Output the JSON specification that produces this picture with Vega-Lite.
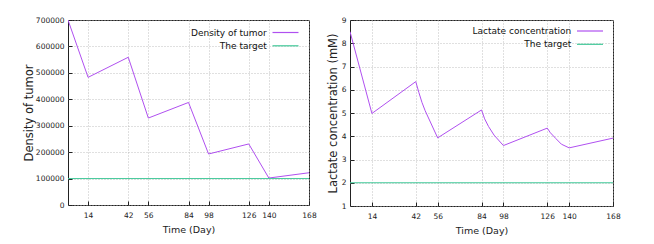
{
  "$schema": "https://vega.github.io/schema/vega-lite/v6.json",
  "background": "white",
  "padding": {"left": 22, "top": 15, "right": 0, "bottom": 0},
  "spacing": 9,
  "config": {
    "font": "DejaVu Sans",
    "view": {"stroke": "#222", "strokeWidth": 1},
    "axis": {
      "grid": true, "gridColor": "#b0b0b0", "gridDash": [1, 2], "gridWidth": 0.8,
      "domain": false, "ticks": true, "tickSize": -4, "tickColor": "#222",
      "labelFont": "DejaVu Sans", "labelFontSize": 7.5, "labelColor": "#222", "labelFlush": false,
      "titleFont": "DejaVu Sans", "titleFontWeight": "normal", "titleColor": "#222"
    },
    "legend": {
      "labelFont": "DejaVu Sans", "labelFontSize": 9, "labelColor": "#111",
      "symbolType": "M-1,0H3", "symbolSize": 169, "symbolStrokeWidth": 1.2,
      "labelAlign": "right", "labelOffset": -19.7, "rowPadding": 0.3,
      "orient": "none", "padding": 0, "title": null
    }
  },
  "datasets": {
    "d": [
      {"panel": "tumor", "series": "Density of tumor", "day": 0, "value": 700000},
      {"panel": "tumor", "series": "Density of tumor", "day": 14, "value": 483000},
      {"panel": "tumor", "series": "Density of tumor", "day": 42, "value": 559000},
      {"panel": "tumor", "series": "Density of tumor", "day": 56, "value": 329000},
      {"panel": "tumor", "series": "Density of tumor", "day": 84, "value": 388000},
      {"panel": "tumor", "series": "Density of tumor", "day": 98, "value": 193000},
      {"panel": "tumor", "series": "Density of tumor", "day": 126, "value": 231000},
      {"panel": "tumor", "series": "Density of tumor", "day": 140, "value": 102000},
      {"panel": "tumor", "series": "Density of tumor", "day": 168, "value": 122000},
      {"panel": "tumor", "series": "The target", "day": 0, "value": 100000},
      {"panel": "tumor", "series": "The target", "day": 168, "value": 100000},
      {"panel": "lactate", "series": "Lactate concentration", "day": 0, "value": 8.5},
      {"panel": "lactate", "series": "Lactate concentration", "day": 14, "value": 4.98},
      {"panel": "lactate", "series": "Lactate concentration", "day": 42, "value": 6.35},
      {"panel": "lactate", "series": "Lactate concentration", "day": 44, "value": 5.88},
      {"panel": "lactate", "series": "Lactate concentration", "day": 46, "value": 5.45},
      {"panel": "lactate", "series": "Lactate concentration", "day": 48, "value": 5.1},
      {"panel": "lactate", "series": "Lactate concentration", "day": 56, "value": 3.93},
      {"panel": "lactate", "series": "Lactate concentration", "day": 84, "value": 5.13},
      {"panel": "lactate", "series": "Lactate concentration", "day": 86, "value": 4.75},
      {"panel": "lactate", "series": "Lactate concentration", "day": 88.5, "value": 4.42},
      {"panel": "lactate", "series": "Lactate concentration", "day": 92, "value": 4.05},
      {"panel": "lactate", "series": "Lactate concentration", "day": 98, "value": 3.6},
      {"panel": "lactate", "series": "Lactate concentration", "day": 126, "value": 4.35},
      {"panel": "lactate", "series": "Lactate concentration", "day": 128, "value": 4.15},
      {"panel": "lactate", "series": "Lactate concentration", "day": 131.5, "value": 3.9},
      {"panel": "lactate", "series": "Lactate concentration", "day": 135, "value": 3.66},
      {"panel": "lactate", "series": "Lactate concentration", "day": 140, "value": 3.5},
      {"panel": "lactate", "series": "Lactate concentration", "day": 168, "value": 3.92},
      {"panel": "lactate", "series": "The target", "day": 0, "value": 2},
      {"panel": "lactate", "series": "The target", "day": 168, "value": 2}
    ]
  },
  "resolve": {"scale": {"color": "independent"}, "legend": {"color": "independent"}},
  "hconcat": [
    {
      "width": 241, "height": 185,
      "data": {"name": "d"},
      "transform": [{"filter": "datum.panel === 'tumor'"}],
      "mark": {"type": "line", "strokeWidth": 1, "clip": true},
      "encoding": {
        "x": {"field": "day", "type": "quantitative",
              "scale": {"domain": [0, 168], "nice": false, "zero": false},
              "axis": {"values": [14, 42, 56, 84, 98, 126, 140, 168], "title": "Time (Day)",
                       "titleFontSize": 9.5, "labelPadding": 10, "titlePadding": 6}},
        "y": {"field": "value", "type": "quantitative",
              "scale": {"domain": [0, 700000], "nice": false},
              "axis": {"values": [0, 100000, 200000, 300000, 400000, 500000, 600000, 700000],
                       "format": "d", "title": "Density of tumor", "titleFontSize": 11.5,
                       "labelPadding": 8, "titlePadding": 1}},
        "color": {"field": "series", "type": "nominal",
                  "scale": {"domain": ["Density of tumor", "The target"], "range": ["#b050f0", "#40c898"]},
                  "legend": {"legendX": 203.5, "legendY": 5}}
      }
    },
    {
      "width": 263, "height": 186,
      "data": {"name": "d"},
      "transform": [{"filter": "datum.panel === 'lactate'"}],
      "mark": {"type": "line", "strokeWidth": 1, "clip": true},
      "encoding": {
        "x": {"field": "day", "type": "quantitative",
              "scale": {"domain": [0, 168], "nice": false, "zero": false},
              "axis": {"values": [14, 42, 56, 84, 98, 126, 140, 168], "title": "Time (Day)",
                       "titleFontSize": 9.5, "labelPadding": 10, "titlePadding": 6}},
        "y": {"field": "value", "type": "quantitative",
              "scale": {"domain": [1, 9], "nice": false, "zero": false},
              "axis": {"values": [1, 2, 3, 4, 5, 6, 7, 8, 9], "format": "d",
                       "title": "Lactate concentration (mM)", "titleFontSize": 11.5,
                       "labelPadding": 8, "titlePadding": 3}},
        "color": {"field": "series", "type": "nominal",
                  "scale": {"domain": ["Lactate concentration", "The target"], "range": ["#b050f0", "#40c898"]},
                  "legend": {"legendX": 226, "legendY": 3.5}}
      }
    }
  ]
}
